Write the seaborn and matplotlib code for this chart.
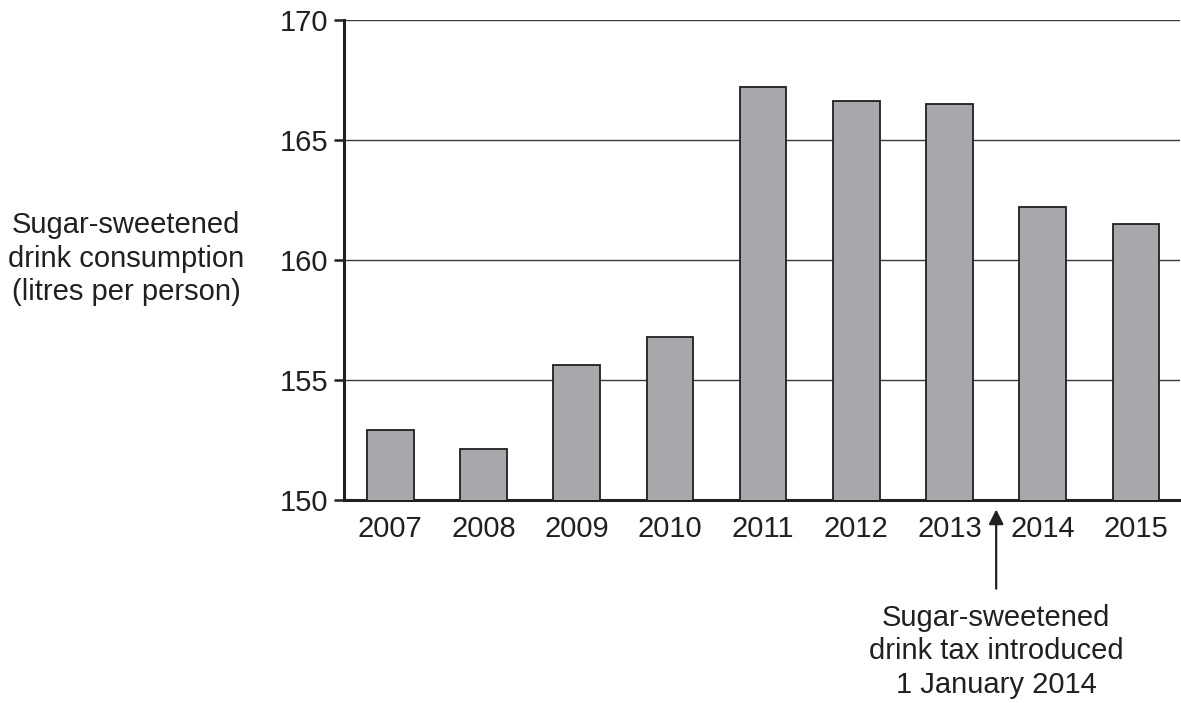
import pandas as pd
import matplotlib.pyplot as plt
import seaborn as sns

years = ['2007', '2008', '2009', '2010', '2011', '2012', '2013', '2014', '2015']
consumption = [152.9, 152.1, 155.6, 156.8, 167.2, 166.6, 166.5, 162.2, 161.5]
y_ticks = [150, 155, 160, 165, 170]

df = pd.DataFrame({'year': years, 'litres': consumption})

sns.set_style('white')
plt.rcParams['font.family'] = ['Liberation Sans', 'DejaVu Sans']

fig = plt.figure(figsize=(11.81, 7.03), dpi=100)
ax = fig.add_axes([0.291, 0.289, 0.708, 0.683])

sns.barplot(data=df, x='year', y='litres', color='#a7a8ac', saturation=1,
            width=0.5, edgecolor='#231f20', linewidth=1.3, ax=ax, zorder=3)

ax.set_ylim(150, 170)
ax.set_xlim(-0.5, 8.47)
ax.set_yticks(y_ticks)
ax.yaxis.grid(True, color='#3a3a3a', linewidth=1.0, zorder=0)
ax.set_axisbelow(True)

for s in ['top', 'right']:
    ax.spines[s].set_visible(False)
for s in ['left', 'bottom']:
    ax.spines[s].set_color('#231f20')
    ax.spines[s].set_linewidth(2.2)

ax.tick_params(axis='y', length=7, width=1.8, color='#231f20', pad=4,
               labelsize=21, labelcolor='#231f20', left=True)
ax.tick_params(axis='x', length=0, pad=11, labelsize=21, labelcolor='#231f20')
ax.set_xlabel('')
ax.set_ylabel('')

fig.text(0.107, 0.632, 'Sugar-sweetened\ndrink consumption\n(litres per person)',
         ha='center', va='center', fontsize=21, color='#231f20', linespacing=1.26)

ax.annotate('', xy=(6.5, -0.02), xycoords=('data', 'axes fraction'),
            xytext=(6.5, -0.185), textcoords=('data', 'axes fraction'),
            arrowprops=dict(arrowstyle='-|>', color='#231f20', lw=1.6,
                            mutation_scale=22, shrinkA=0, shrinkB=0))
ax.text(6.5, -0.216, 'Sugar-sweetened\ndrink tax introduced\n1 January 2014',
        transform=ax.get_xaxis_transform(), ha='center', va='top',
        fontsize=21, color='#231f20', linespacing=1.26)

plt.savefig('out.png', dpi=100)
